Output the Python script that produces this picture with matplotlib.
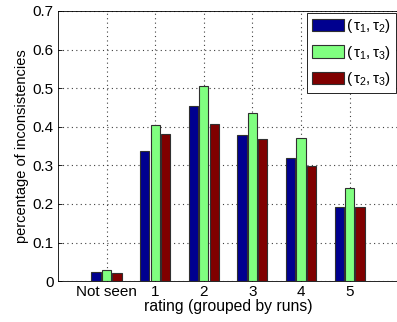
import matplotlib
matplotlib.use('Agg')
import matplotlib.pyplot as plt
import numpy as np

# data
categories = ['Not seen', '1', '2', '3', '4', '5']
tau12 = [0.024, 0.338, 0.454, 0.378, 0.319, 0.192]
tau13 = [0.028, 0.404, 0.506, 0.435, 0.370, 0.240]
tau23 = [0.022, 0.380, 0.408, 0.369, 0.299, 0.192]
labels = [r'$(\,\tau_1, \tau_2)$', r'$(\,\tau_1, \tau_3)$', r'$(\,\tau_2, \tau_3)$']
colors = ['#00008F', '#80FF80', '#800000']

plt.rcParams['font.family'] = ['Liberation Sans', 'DejaVu Sans']
plt.rcParams['mathtext.fontset'] = 'custom'
plt.rcParams['mathtext.rm'] = 'Liberation Sans'
plt.rcParams['mathtext.it'] = 'Liberation Sans'

fig = plt.figure(figsize=(3.97, 3.22), dpi=100)
ax = fig.add_axes([0.146, 0.127, 0.857, 0.839])

x = np.arange(1, len(categories) + 1)
offsets = [-0.215, 0.0, 0.215]
for series, off, col, lab in zip([tau12, tau13, tau23], offsets, colors, labels):
    ax.bar(x + off, series, width=0.19, color=col, edgecolor='#303030',
           linewidth=0.8, label=lab, zorder=3)

ax.set_xlim(0, 7)
ax.set_ylim(0, 0.7)
ax.set_xticks(x)
ax.set_xticklabels(categories)
ax.set_yticks(np.arange(0, 0.71, 0.1))
ax.set_yticklabels(['0', '0.1', '0.2', '0.3', '0.4', '0.5', '0.6', '0.7'])
ax.tick_params(direction='in', length=3, labelsize=11, width=0.6, pad=3)
ax.grid(True, linestyle=(0, (1, 3)), color='#404040', linewidth=0.8, zorder=0)
for s in ax.spines.values():
    s.set_linewidth(0.6)

ax.set_xlabel('rating (grouped by runs)', fontsize=11.3, labelpad=0)
ax.set_ylabel('percentage of inconsistencies', fontsize=10.5, labelpad=3)

leg = ax.legend(loc='upper right', bbox_to_anchor=(0.993, 0.993), fontsize=11,
                fancybox=False, edgecolor='black', framealpha=1,
                handlelength=2.1, handleheight=0.85, handletextpad=0.15,
                borderpad=0.3, labelspacing=0.55, borderaxespad=0)
leg.get_frame().set_linewidth(0.6)

fig.savefig('out.png', dpi=100)
